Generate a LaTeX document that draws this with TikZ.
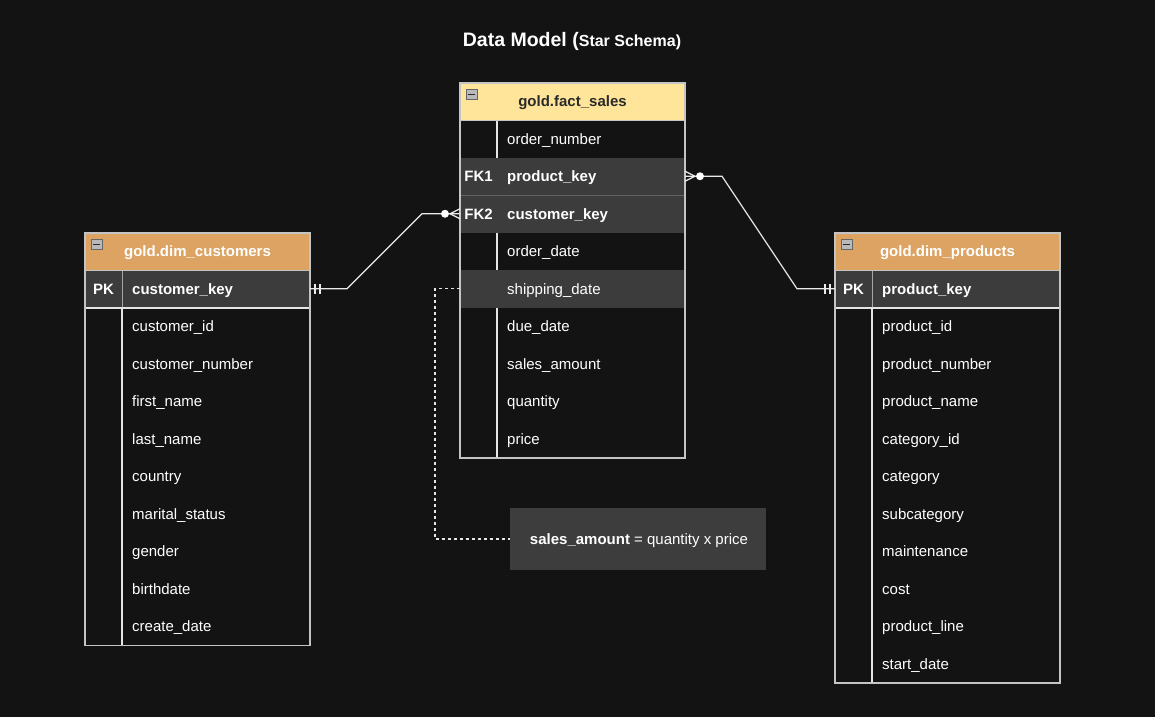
\documentclass[tikz,border=0pt]{standalone}
\usepackage{fontspec}
\setmainfont{Liberation Sans}
\usetikzlibrary{calc}
\definecolor{bg}{HTML}{131313}
\definecolor{hl}{HTML}{3C3C3C}
\definecolor{hdrorange}{HTML}{DDA363}
\definecolor{hdryellow}{HTML}{FFE599}
\definecolor{bordergray}{HTML}{C4C4C4}
\definecolor{notefill}{HTML}{3D3D3D}
\definecolor{darktext}{HTML}{2A2A2A}
\tikzset{
  rowbox/.style={minimum width=225pt, minimum height=37.5pt, inner sep=0pt, outer sep=0pt, draw=none},
  hdrbox/.style={minimum width=225pt, minimum height=37.5pt, inner sep=0pt, outer sep=0pt, draw=none, font=\fontsize{15}{18}\selectfont\bfseries},
  ftxt/.style={anchor=west, inner sep=0pt, text=white, text height=11pt, text depth=3.5pt, yshift=-1.5pt, font=\fontsize{15}{18}\selectfont},
  ktxt/.style={inner sep=0pt, text=white, text height=11pt, text depth=3.5pt, yshift=-1.5pt, font=\fontsize{15}{18}\selectfont\bfseries},
  tborder/.style={draw=bordergray, line width=1.4pt},
  divline/.style={draw=white!90!black, line width=1.2pt},
  conn/.style={draw=white!92!black, line width=1.2pt},
  notebox/.style={fill=notefill, minimum width=256pt, minimum height=62pt, inner sep=0pt, text=white, font=\fontsize{15}{18}\selectfont},
  dashconn/.style={draw=white!90!black, line width=1.2pt, dash pattern=on 3.5pt off 2.5pt},
  minusicon/.style={fill=gray!55, draw=gray!80!black, line width=0.6pt}
}
\begin{document}
\begin{tikzpicture}[x=1pt,y=-1pt]
\useasboundingbox[fill=bg] (0,0) rectangle (1155,717);

% title
\node[text=white, inner sep=0pt] (title) at (572,41) {\fontsize{19.5}{22}\selectfont\bfseries Data Model (\fontsize{16}{18}\selectfont Star Schema)};

% ---------- fact_sales ----------
\node[hdrbox, fill=hdryellow, text=darktext] (fsh) at (572.5,101.5) {};
\node[inner sep=0pt, text=darktext, font=\fontsize{15}{18}\selectfont\bfseries, yshift=-1.5pt] (fsht) at (fsh.center) {gold.fact\_sales};
\foreach \k/\t/\c [count=\i] in {{}/{order\_number}/bg, FK1/{\textbf{product\_key}}/hl, FK2/{\textbf{customer\_key}}/hl, {}/{order\_date}/bg, {}/{shipping\_date}/hl, {}/{due\_date}/bg, {}/{sales\_amount}/bg, {}/{quantity}/bg, {}/{price}/bg}{
  \node[rowbox, fill=\c] (fs\i) at (572.5,{120+(\i-0.5)*37.5}) {};
  \node[ktxt] (fsk\i) at (478.5,{120+(\i-0.5)*37.5}) {\k};
  \node[ftxt] (fst\i) at (507,{120+(\i-0.5)*37.5}) {\t};
}
\draw[draw=hl!80!white, line width=0.6pt] (fs2.south west) -- (fs2.south east);
\draw[divline] (497,120) -- (497,157.5) (497,232.5) -- (497,270) (497,307.5) -- (497,458);
\draw[draw=bordergray, line width=1pt] (460,120) -- (685,120);
\draw[tborder] (460,83) rectangle (685,458);
\draw[minusicon] (466,89) rectangle (477,99);
\draw[line width=1pt, darktext] (468,94) -- (475,94);

% ---------- dim_customers ----------
\node[hdrbox, fill=hdrorange] (dch) at (197.5,251.5) {};
\node[inner sep=0pt, text=white, font=\fontsize{15}{18}\selectfont\bfseries, yshift=-1.5pt] (dcht) at (dch.center) {gold.dim\_customers};
\foreach \k/\t/\c [count=\i] in {PK/{\textbf{customer\_key}}/hl, {}/{customer\_id}/bg, {}/{customer\_number}/bg, {}/{first\_name}/bg, {}/{last\_name}/bg, {}/{country}/bg, {}/{marital\_status}/bg, {}/{gender}/bg, {}/{birthdate}/bg, {}/{create\_date}/bg}{
  \node[rowbox, fill=\c] (dc\i) at (197.5,{270+(\i-0.5)*37.5}) {};
  \node[ktxt] (dck\i) at (103.5,{270+(\i-0.5)*37.5}) {\k};
  \node[ftxt] (dct\i) at (132,{270+(\i-0.5)*37.5}) {\t};
}
\draw[draw=gray!70, line width=1pt] (122,270) -- (122,308);
\draw[divline] (122,308) -- (122,645.5);
\draw[draw=bordergray, line width=1pt] (85,270) -- (310,270);
\draw[draw=white!90!black, line width=1.2pt] (85,308) -- (310,308);
\draw[tborder] (85,233) rectangle (310,645.5);
\draw[minusicon] (91,239) rectangle (102,249);
\draw[line width=1pt, darktext] (93,244) -- (100,244);

% ---------- dim_products ----------
\node[hdrbox, fill=hdrorange] (dph) at (947.5,251.5) {};
\node[inner sep=0pt, text=white, font=\fontsize{15}{18}\selectfont\bfseries, yshift=-1.5pt] (dpht) at (dph.center) {gold.dim\_products};
\foreach \k/\t/\c [count=\i] in {PK/{\textbf{product\_key}}/hl, {}/{product\_id}/bg, {}/{product\_number}/bg, {}/{product\_name}/bg, {}/{category\_id}/bg, {}/{category}/bg, {}/{subcategory}/bg, {}/{maintenance}/bg, {}/{cost}/bg, {}/{product\_line}/bg, {}/{start\_date}/bg}{
  \node[rowbox, fill=\c] (dp\i) at (947.5,{270+(\i-0.5)*37.5}) {};
  \node[ktxt] (dpk\i) at (853.5,{270+(\i-0.5)*37.5}) {\k};
  \node[ftxt] (dpt\i) at (882,{270+(\i-0.5)*37.5}) {\t};
}
\draw[draw=gray!70, line width=1pt] (872,270) -- (872,308);
\draw[divline] (872,308) -- (872,683);
\draw[draw=bordergray, line width=1pt] (835,270) -- (1060,270);
\draw[draw=white!90!black, line width=1.2pt] (835,308) -- (1060,308);
\draw[tborder] (835,233) rectangle (1060,683);
\draw[minusicon] (841,239) rectangle (852,249);
\draw[line width=1pt, darktext] (843,244) -- (850,244);

% ---------- note ----------
\node[notebox] (note) at (638,539) {};
\node[inner sep=0pt, text=white, font=\fontsize{15}{18}\selectfont, yshift=-1.5pt] (notet) at ([xshift=1pt]note.center) {\textbf{sales\_amount} = quantity x price};
\draw[dashconn] (fs5.west) -- ++(-25,0) |- (note.west);

% ---------- connectors ----------
% customers -> fact (FK2)
\draw[conn] (dc1.east) -- ++(37,0) -- ($(fs3.west)+(-38,0)$) -- (fs3.west);
\draw[conn] ($(dc1.east)+(5,-5)$) -- ++(0,10);
\draw[conn] ($(dc1.east)+(10,-5)$) -- ++(0,10);
\fill[white] ($(fs3.west)+(-15,0)$) circle (4);
\draw[conn] ($(fs3.west)+(-10,0)$) -- ($(fs3.west)+(0,-5)$);
\draw[conn] ($(fs3.west)+(-10,0)$) -- ($(fs3.west)+(0,5)$);

% fact (FK1) -> products
\draw[conn] (fs2.east) -- ++(37,0) -- ($(dp1.west)+(-38,0)$) -- (dp1.west);
\draw[conn] ($(dp1.west)+(-5,-5)$) -- ++(0,10);
\draw[conn] ($(dp1.west)+(-10,-5)$) -- ++(0,10);
\fill[white] ($(fs2.east)+(15,0)$) circle (4);
\draw[conn] ($(fs2.east)+(10,0)$) -- ($(fs2.east)+(0,-5)$);
\draw[conn] ($(fs2.east)+(10,0)$) -- ($(fs2.east)+(0,5)$);
\end{tikzpicture}
\end{document}
